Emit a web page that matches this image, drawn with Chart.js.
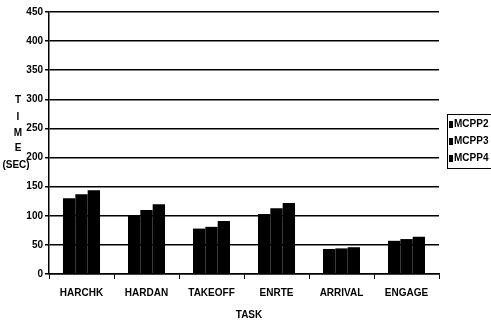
<!DOCTYPE html>
<html>
<head>
<meta charset="utf-8">
<script src="https://cdn.jsdelivr.net/npm/chart.js@4"></script>
<style>
  html, body { margin: 0; padding: 0; background: #fff; }
  #wrap { width: 491px; height: 324px; }
</style>
</head>
<body>
<div id="wrap"><canvas id="taskChart"></canvas></div>
<script>
const tasks = ['HARCHK', 'HARDAN', 'TAKEOFF', 'ENRTE', 'ARRIVAL', 'ENGAGE'];
const seriesNames = ['MCPP2', 'MCPP3', 'MCPP4'];
const mcpp2 = [130, 101, 78, 103, 43, 57];
const mcpp3 = [137, 110, 81, 113, 44, 60];
const mcpp4 = [144, 120, 91, 122, 46, 64];
const timeTicks = [0, 50, 100, 150, 200, 250, 300, 350, 400, 450];

const FONT = '"Liberation Sans Narrow", "Liberation Sans", Arial, sans-serif';

// axis titles and the boxed legend are drawn by hand
const extras = {
  id: 'extras',
  afterDraw(chart) {
    const ctx = chart.ctx;
    ctx.save();
    ctx.fillStyle = '#000';
    ctx.font = 'bold 10px ' + FONT;
    ctx.textAlign = 'center';
    ctx.textBaseline = 'middle';
    const letters = ['T', 'I', 'M', 'E'];
    const ys = [100, 117, 133, 148];
    letters.forEach((l, i) => ctx.fillText(l, 18, ys[i]));
    ctx.fillText('(SEC)', 16, 165);
    ctx.fillText('TASK', 249, 315);

    // legend
    ctx.strokeStyle = '#000';
    ctx.lineWidth = 1;
    ctx.strokeRect(447.5, 114.5, 50, 54);
    ctx.textAlign = 'left';
    chart.data.datasets.forEach((ds, i) => {
      const y = 124 + i * 17;
      ctx.fillStyle = ds.backgroundColor;
      ctx.fillRect(449, y - 3, 4, 7);
      ctx.fillStyle = '#000';
      ctx.fillText(ds.label, 454, y);
    });
    ctx.restore();
  }
};

new Chart(document.getElementById('taskChart'), {
  type: 'bar',
  data: {
    labels: tasks,
    datasets: [
      { label: seriesNames[0], data: mcpp2, backgroundColor: '#000' },
      { label: seriesNames[1], data: mcpp3, backgroundColor: '#000' },
      { label: seriesNames[2], data: mcpp4, backgroundColor: '#000' },
    ],
  },
  options: {
    responsive: true,
    maintainAspectRatio: false,
    animation: false,
    layout: { padding: { left: 0, right: 52, top: 12, bottom: 0 } },
    datasets: { bar: { categoryPercentage: 0.57, barPercentage: 1.0 } },
    plugins: {
      legend: { display: false },
      tooltip: { enabled: false },
    },
    scales: {
      x: {
        afterFit: (s) => { s.height = 50; },
        grid: { drawOnChartArea: false, color: '#000', tickLength: 5, lineWidth: 1 },
        border: { color: '#000', width: 1.5 },
        ticks: { color: '#000', font: { family: FONT, size: 10, weight: 'bold' }, padding: 8 },
      },
      y: {
        min: 0,
        max: 450,
        afterFit: (s) => { s.width = 49; },
        afterBuildTicks: (s) => { s.ticks = timeTicks.map(v => ({ value: v })); },
        grid: { color: '#000', lineWidth: 1.5, tickLength: 4 },
        border: { color: '#000', width: 1.5 },
        ticks: { color: '#000', font: { family: FONT, size: 10, weight: 'bold' }, padding: 2 },
      },
    },
  },
  plugins: [extras],
});
</script>
</body>
</html>
